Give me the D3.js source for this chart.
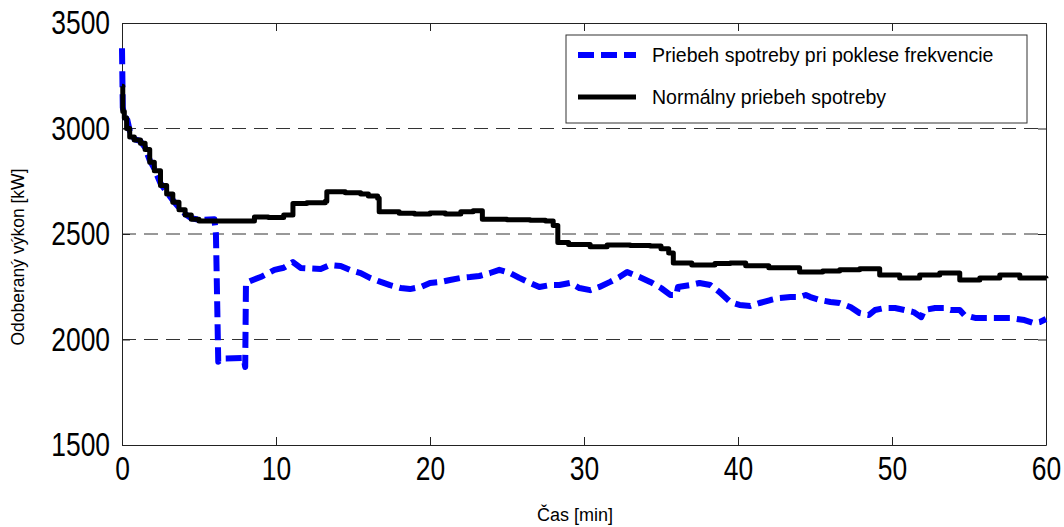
<!DOCTYPE html>
<html><head><meta charset="utf-8">
<script src="https://cdn.jsdelivr.net/npm/d3@7"></script>
<style>
html,body{margin:0;padding:0;background:#fff;}
svg{display:block;}
</style>
</head><body>
<svg id="chart" width="1064" height="527"></svg>
<script>
// ---- data ----
const xTicks = [0, 10, 20, 30, 40, 50, 60];
const yTicks = [1500, 2000, 2500, 3000, 3500];
const seriesNames = ["Priebeh spotreby pri poklese frekvencie", "Normálny priebeh spotreby"];
const xTitle = "Čas [min]";
const yTitle = "Odoberaný výkon [kW]";

// Normal consumption (time [min], power [kW])
const normalT = [0,0.05,0.15,0.3,0.5,0.8,1.2,1.5,1.8,2.1,2.5,2.9,3.3,3.7,4.1,4.5,5.0,8.6,9.5,10.5,11.1,12,13.2,13.3,14.5,15.5,16.0,16.6,16.7,18,19,20,21,22,22.8,23.4,25,26.5,27.5,28.0,28.3,29,30.4,31.5,33,34.3,35.0,35.5,35.8,37,38.5,39.5,40.5,42,44,45.5,46.6,47.9,49.2,50.5,51.8,53.1,54.4,55.7,57,58.3,60];
const normalV = [3200,3080,3050,3000,2960,2945,2930,2900,2840,2800,2730,2690,2650,2615,2590,2570,2562,2580,2578,2590,2645,2648,2655,2700,2695,2690,2680,2670,2605,2598,2595,2600,2595,2605,2610,2570,2568,2565,2562,2540,2460,2450,2440,2448,2445,2443,2430,2410,2363,2353,2360,2363,2350,2340,2320,2325,2330,2335,2306,2292,2306,2315,2282,2292,2306,2292,2290];

// Consumption during frequency drop
const dropT = [0,0.05,0.15,0.35,0.5,0.8,1.2,1.5,1.8,2.1,2.5,2.9,3.3,3.7,4.1,4.5,5.0,6.0,6.1,6.25,6.5,7.9,8.0,8.05,8.5,9.0,9.9,10.5,11.1,11.6,12.9,13.5,14.2,14.8,15.5,16.1,16.8,17.4,18.1,18.7,19.4,20,20.7,21.3,22,22.6,23.2,23.9,24.5,25.2,25.8,26.5,27.1,27.8,28.4,29.1,29.7,30.4,31,31.7,32.3,32.8,33.6,34.3,35,35.6,36.0,36.1,36.9,37.5,38.2,38.8,39.5,40.1,40.8,41.4,42.1,42.7,43.4,44.0,44.4,44.7,45.3,46,46.6,47.3,47.9,48.5,48.9,49.5,50.2,50.8,51.4,51.9,52.1,52.8,53.4,53.8,54.4,54.7,55.4,56.4,57.7,58.6,59.2,59.6,60];
const dropV = [3380,3100,3060,3040,2990,2950,2940,2910,2850,2810,2740,2700,2660,2625,2595,2575,2567,2570,2500,1895,1910,1912,1870,2268,2282,2296,2330,2340,2367,2339,2334,2353,2348,2330,2315,2292,2273,2258,2244,2239,2249,2268,2273,2282,2292,2296,2301,2315,2330,2315,2292,2268,2249,2258,2258,2268,2244,2234,2249,2273,2296,2320,2296,2273,2244,2211,2211,2249,2258,2268,2258,2225,2178,2164,2159,2173,2187,2197,2201,2201,2211,2201,2187,2178,2173,2154,2125,2116,2140,2149,2149,2140,2130,2106,2140,2149,2149,2140,2140,2116,2102,2102,2102,2092,2078,2083,2097];

// ---- layout ----
const svg = d3.select("#chart");
const L = 122, T = 23, W = 924, H = 422;
const g = svg.append("g").attr("transform", `translate(${L},${T})`);
const x = d3.scaleLinear().domain([0, 60]).range([0, W]);
const y = d3.scaleLinear().domain([1500, 3500]).range([H, 0]);
const numFont = "'Liberation Sans',Arial,sans-serif";
const txtFont = "'Liberation Sans',Arial,sans-serif";
const squeeze = 0.8;

// grid
g.append("g").selectAll("line").data(yTicks.slice(1, -1)).join("line")
  .attr("x1", 0).attr("x2", W).attr("y1", d => y(d)).attr("y2", d => y(d))
  .attr("stroke", "#333").attr("stroke-width", 1).attr("stroke-dasharray", "14,8");

// axes
function style(sel, labels) {
  sel.select(".domain").attr("stroke", "#222");
  sel.selectAll(".tick line").attr("stroke", "#222");
  sel.selectAll("text").attr("font-family", numFont).attr("font-size", 33).attr("fill", "#000");
  if (!labels) sel.selectAll("text").remove();
}
const fmt = d3.format("d");
g.append("g").attr("transform", `translate(0,${H})`)
  .call(d3.axisBottom(x).tickValues(xTicks).tickFormat(fmt).tickSizeInner(-8).tickSizeOuter(0).tickPadding(12))
  .call(s => style(s, true))
  .call(s => s.selectAll("text").attr("transform", `scale(${squeeze},1)`));
g.append("g")
  .call(d3.axisTop(x).tickValues(xTicks).tickSizeInner(-8).tickSizeOuter(0))
  .call(s => style(s, false));
g.append("g")
  .call(d3.axisLeft(y).tickValues(yTicks).tickFormat(fmt).tickSizeInner(-8).tickSizeOuter(0).tickPadding(12))
  .call(s => style(s, true))
  .call(s => s.selectAll("text").attr("x", -12 / squeeze).attr("transform", `scale(${squeeze},1)`));
g.append("g").attr("transform", `translate(${W},0)`)
  .call(d3.axisRight(y).tickValues(yTicks).tickSizeInner(-8).tickSizeOuter(0))
  .call(s => style(s, false));

// lines
const dropData = dropT.map((t, i) => [t, dropV[i]]);
const normalData = normalT.map((t, i) => [t, normalV[i]]);
const lineLin = d3.line().x(d => x(d[0])).y(d => y(d[1])).curve(d3.curveLinear);
const lineStep = d3.line().x(d => x(d[0])).y(d => y(d[1])).curve(d3.curveStepAfter);
g.append("path").datum(dropData).attr("d", lineLin)
  .attr("fill", "none").attr("stroke", "#0000ff").attr("stroke-width", 6)
  .attr("stroke-dasharray", "16,7").attr("stroke-linejoin", "round");
g.append("path").datum(normalData).attr("d", lineStep)
  .attr("fill", "none").attr("stroke", "#000").attr("stroke-width", 5)
  .attr("stroke-linejoin", "round");

// axis titles
svg.append("text").attr("x", 575).attr("y", 521).attr("text-anchor", "middle")
  .attr("font-family", txtFont).attr("font-size", 18).text(xTitle);
svg.append("text").attr("transform", "translate(24,257) rotate(-90)").attr("text-anchor", "middle")
  .attr("font-family", txtFont).attr("font-size", 17.5).text(yTitle);

// legend
const lg = svg.append("g");
lg.append("rect").attr("x", 566).attr("y", 35).attr("width", 461).attr("height", 88)
  .attr("fill", "#fff").attr("stroke", "#333").attr("stroke-width", 1);
const rows = [
  {name: seriesNames[0], color: "#0000ff", dash: "16,7", w: 6, yy: 55},
  {name: seriesNames[1], color: "#000", dash: null, w: 5, yy: 97}
];
rows.forEach(r => {
  lg.append("line").attr("x1", 578).attr("x2", 636).attr("y1", r.yy).attr("y2", r.yy)
    .attr("stroke", r.color).attr("stroke-width", r.w).attr("stroke-dasharray", r.dash);
  lg.append("text").attr("x", 652).attr("y", r.yy).attr("dy", "0.35em")
    .attr("font-family", txtFont).attr("font-size", 19.5).text(r.name);
});
</script>
</body></html>
